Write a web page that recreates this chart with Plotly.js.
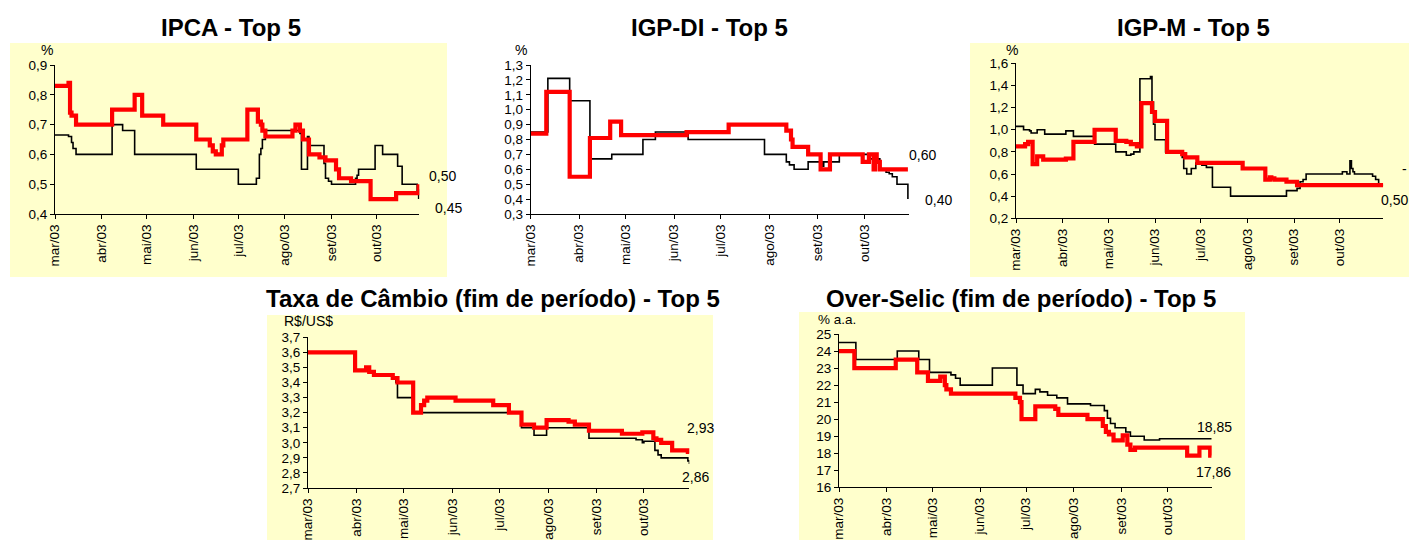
<!DOCTYPE html>
<html>
<head>
<meta charset="utf-8">
<script src="https://cdn.plot.ly/plotly-3.0.1.min.js"></script>
<style>html,body{margin:0;padding:0;background:#fff;}#chart{width:1409px;height:540px;}</style>
</head>
<body>
<div id="chart"></div>
<script>
// ---------------- DATA ----------------
const monthTicks = ['2003-03-01','2003-04-01','2003-05-01','2003-06-01','2003-07-01','2003-08-01','2003-09-01','2003-10-01'];
const monthLabels = ['mar/03','abr/03','mai/03','jun/03','jul/03','ago/03','set/03','out/03'];

const panelTitles = ['IPCA - Top 5','IGP-DI - Top 5','IGP-M - Top 5','Taxa de Câmbio (fim de período) - Top 5','Over-Selic (fim de período) - Top 5'];
const unitLabels = ['%','%','%','R$/US$','% a.a.'];

// IPCA
const ipcaBlackDates = ['2003-03-01','2003-03-10','2003-03-12','2003-03-13','2003-03-15','2003-04-08','2003-04-15','2003-04-23','2003-06-03','2003-07-01','2003-07-13','2003-07-15','2003-07-16','2003-07-17','2003-07-19','2003-08-11','2003-08-12','2003-08-16','2003-08-17','2003-08-27','2003-08-28','2003-08-30','2003-09-01','2003-09-17','2003-09-18','2003-09-19','2003-09-30','2003-10-05','2003-10-15','2003-10-18','2003-10-28','2003-10-29'];
const ipcaBlackValues = [0.665,0.66,0.64,0.62,0.60,0.70,0.68,0.60,0.55,0.50,0.52,0.60,0.62,0.65,0.68,0.67,0.55,0.66,0.63,0.57,0.52,0.51,0.50,0.52,0.53,0.55,0.63,0.60,0.56,0.50,0.48,0.45];
const ipcaRedDates = ['2003-03-01','2003-03-10','2003-03-11','2003-03-12','2003-03-15','2003-04-08','2003-04-23','2003-04-28','2003-05-12','2003-06-03','2003-06-12','2003-06-14','2003-06-16','2003-06-20','2003-06-21','2003-07-07','2003-07-14','2003-07-16','2003-07-17','2003-07-19','2003-08-06','2003-08-08','2003-08-11','2003-08-13','2003-08-17','2003-08-24','2003-08-28','2003-09-04','2003-09-06','2003-09-14','2003-09-27','2003-10-14','2003-10-29'];
const ipcaRedValues = [0.83,0.84,0.74,0.73,0.70,0.75,0.80,0.73,0.70,0.65,0.63,0.61,0.60,0.63,0.65,0.75,0.71,0.70,0.68,0.66,0.68,0.70,0.68,0.65,0.60,0.59,0.58,0.55,0.52,0.51,0.45,0.47,0.50];

// IGP-DI
const igpdiBlackDates = ['2003-03-01','2003-03-12','2003-03-26','2003-04-08','2003-04-22','2003-05-12','2003-05-20','2003-06-10','2003-07-29','2003-08-12','2003-08-14','2003-08-17','2003-08-26','2003-09-04','2003-09-05','2003-09-15','2003-10-04','2003-10-11','2003-10-15','2003-10-17','2003-10-19','2003-10-22','2003-10-29'];
const igpdiBlackValues = [0.85,1.21,1.06,0.67,0.70,0.80,0.85,0.80,0.70,0.65,0.63,0.60,0.65,0.62,0.65,0.70,0.67,0.60,0.58,0.57,0.55,0.50,0.40];
const igpdiRedDates = ['2003-03-01','2003-03-11','2003-03-26','2003-04-08','2003-04-21','2003-04-28','2003-06-09','2003-07-06','2003-08-12','2003-08-15','2003-08-16','2003-08-26','2003-09-03','2003-09-09','2003-09-30','2003-10-04','2003-10-07','2003-10-08','2003-10-09','2003-10-11','2003-10-29'];
const igpdiRedValues = [0.84,1.12,0.55,0.81,0.92,0.83,0.85,0.90,0.86,0.80,0.75,0.70,0.60,0.70,0.65,0.70,0.60,0.70,0.65,0.60,0.60];

// IGP-M
const igpmBlackDates = ['2003-03-01','2003-03-06','2003-03-10','2003-03-11','2003-03-15','2003-03-20','2003-04-03','2003-04-08','2003-04-22','2003-05-06','2003-05-13','2003-05-16','2003-05-18','2003-05-22','2003-05-29','2003-05-30','2003-05-31','2003-06-01','2003-06-08','2003-06-19','2003-06-20','2003-06-22','2003-06-25','2003-06-28','2003-07-02','2003-07-05','2003-07-09','2003-07-21','2003-08-27','2003-09-03','2003-09-05','2003-09-07','2003-09-09','2003-10-03','2003-10-06','2003-10-08','2003-10-09','2003-10-10','2003-10-11','2003-10-23','2003-10-25','2003-10-27','2003-10-30'];
const igpmBlackValues = [1.03,1.00,0.99,0.97,1.00,0.96,0.99,0.94,0.87,0.80,0.77,0.78,0.80,1.46,1.48,1.25,1.05,0.91,0.80,0.75,0.65,0.60,0.65,0.70,0.68,0.66,0.48,0.40,0.45,0.47,0.53,0.55,0.60,0.62,0.60,0.72,0.65,0.62,0.60,0.58,0.55,0.50,0.50];
const igpmRedDates = ['2003-03-01','2003-03-07','2003-03-09','2003-03-12','2003-03-15','2003-03-19','2003-04-03','2003-04-08','2003-04-22','2003-05-06','2003-05-13','2003-05-16','2003-05-20','2003-05-23','2003-05-30','2003-06-01','2003-06-09','2003-06-19','2003-06-21','2003-06-29','2003-07-29','2003-08-13','2003-08-16','2003-08-17','2003-08-19','2003-08-27','2003-09-03','2003-10-30'];
const igpmRedValues = [0.85,0.87,0.89,0.69,0.76,0.73,0.74,0.89,1.00,0.90,0.89,0.87,0.85,1.24,1.16,1.08,0.80,0.78,0.75,0.70,0.65,0.55,0.57,0.56,0.55,0.53,0.50,0.50];

// Taxa de Câmbio
const cambioBlackDates = ['2003-03-01','2003-03-31','2003-04-07','2003-04-09','2003-04-12','2003-04-24','2003-04-26','2003-04-27','2003-05-07','2003-07-15','2003-07-23','2003-07-31','2003-08-27','2003-09-26','2003-09-30','2003-10-01','2003-10-08','2003-10-10','2003-10-12','2003-10-29','2003-10-30'];
const cambioBlackValues = [3.60,3.48,3.50,3.47,3.45,3.43,3.40,3.30,3.20,3.10,3.05,3.10,3.03,3.02,3.00,3.01,2.95,2.92,2.90,2.88,2.86];
const cambioRedDates = ['2003-03-01','2003-03-31','2003-04-07','2003-04-09','2003-04-12','2003-04-24','2003-04-27','2003-05-07','2003-05-12','2003-05-14','2003-05-16','2003-06-03','2003-06-27','2003-07-07','2003-07-15','2003-07-23','2003-07-31','2003-08-14','2003-08-18','2003-08-27','2003-09-17','2003-09-30','2003-10-07','2003-10-09','2003-10-12','2003-10-19','2003-10-29','2003-10-30'];
const cambioRedValues = [3.60,3.48,3.50,3.47,3.45,3.43,3.40,3.20,3.25,3.28,3.30,3.28,3.25,3.20,3.12,3.10,3.15,3.14,3.12,3.08,3.06,3.07,3.03,3.02,3.00,2.95,2.94,2.93];

// Over-Selic
const selicBlackDates = ['2003-03-01','2003-03-12','2003-04-08','2003-04-22','2003-04-29','2003-05-13','2003-05-16','2003-05-19','2003-06-09','2003-06-25','2003-06-29','2003-07-07','2003-07-10','2003-07-15','2003-07-21','2003-07-28','2003-08-12','2003-08-21','2003-08-23','2003-08-25','2003-08-28','2003-09-04','2003-09-07','2003-09-16','2003-09-26','2003-10-30'];
const selicBlackValues = [24.5,23.5,24.0,23.5,22.75,22.6,22.4,22.0,23.0,22.0,21.5,21.75,21.6,21.4,21.25,20.9,20.8,20.5,20.05,19.75,19.5,19.25,19.0,18.78,18.85,18.85];
const selicRedDates = ['2003-03-01','2003-03-11','2003-04-07','2003-04-21','2003-04-28','2003-05-06','2003-05-09','2003-05-10','2003-05-13','2003-06-24','2003-06-27','2003-06-28','2003-07-07','2003-07-20','2003-07-22','2003-08-10','2003-08-20','2003-08-22','2003-08-24','2003-08-27','2003-09-02','2003-09-05','2003-09-07','2003-09-10','2003-10-14','2003-10-22','2003-10-29','2003-10-30'];
const selicRedValues = [24.0,23.0,23.5,22.75,22.25,22.5,22.0,21.75,21.5,21.25,21.0,20.0,20.75,20.6,20.25,20.0,19.6,19.25,19.1,18.75,19.05,18.5,18.2,18.33,17.86,18.33,17.86,17.86];

const endLabels = [['0,50','0,45'],['0,60','0,40'],['0,50'],['2,93','2,86'],['18,85','17,86']];

// ---------------- LAYOUT ----------------
const W = 1409, H = 540;
const px = x => x / W;
const py = y => 1 - y / H;
const FONT = 'Liberation Sans, Arial, Helvetica, sans-serif';

// plot areas in pixels: [left, right, top, bottom]
const boxes = [
  [55, 419.3, 65, 214],
  [530.7, 909, 65, 214],
  [1016, 1383.3, 63.3, 218.3],
  [308, 689.3, 337.3, 488],
  [839, 1211.7, 334, 487.3]
];
const xEnds = ['2003-10-29 10:00','2003-10-29 17:00','2003-10-30 02:00','2003-10-29 22:00','2003-10-30'];
const yRanges = [[0.4,0.9],[0.3,1.3],[0.2,1.6],[2.7,3.7],[16,25]];
const yDticks = [0.1,0.1,0.2,0.1,1];
const yFormats = ['.1f','.1f','.1f','.1f','d'];

const seriesList = [
  [ipcaBlackDates, ipcaBlackValues, ipcaRedDates, ipcaRedValues],
  [igpdiBlackDates, igpdiBlackValues, igpdiRedDates, igpdiRedValues],
  [igpmBlackDates, igpmBlackValues, igpmRedDates, igpmRedValues],
  [cambioBlackDates, cambioBlackValues, cambioRedDates, cambioRedValues],
  [selicBlackDates, selicBlackValues, selicRedDates, selicRedValues]
];

const traces = [];
const layout = {
  width: W, height: H,
  margin: {l: 0, r: 0, t: 0, b: 0},
  paper_bgcolor: '#ffffff',
  plot_bgcolor: 'rgba(0,0,0,0)',
  showlegend: false,
  separators: ',.',
  font: {family: FONT, color: '#000', size: 13.5},
  shapes: [],
  annotations: []
};

seriesList.forEach((s, i) => {
  const n = i + 1;
  const xa = 'x' + (n === 1 ? '' : n);
  const ya = 'y' + (n === 1 ? '' : n);
  traces.push({x: s[0], y: s[1], type: 'scatter', mode: 'lines', line: {color: '#000000', width: 1.6, shape: 'hv'}, xaxis: xa, yaxis: ya, hoverinfo: 'skip'});
  traces.push({x: s[2], y: s[3], type: 'scatter', mode: 'lines', line: {color: '#ff0000', width: 4.2, shape: 'hv'}, xaxis: xa, yaxis: ya, hoverinfo: 'skip'});
  const b = boxes[i];
  layout['xaxis' + (n === 1 ? '' : n)] = {
    domain: [px(b[0]), px(b[1])], anchor: ya, type: 'date',
    range: ['2003-03-01', xEnds[i]],
    tickmode: 'array', tickvals: monthTicks, ticktext: monthLabels, tickangle: -90,
    ticks: 'outside', ticklen: 4, tickwidth: 1, tickcolor: '#000',
    showline: true, linecolor: '#000', linewidth: 1,
    showgrid: false, zeroline: false, fixedrange: true,
    tickfont: {family: FONT, size: 13.5, color: '#000'}
  };
  layout['yaxis' + (n === 1 ? '' : n)] = {
    domain: [py(b[3]), py(b[2])], anchor: xa,
    range: yRanges[i], dtick: yDticks[i], tick0: yRanges[i][0], tickformat: yFormats[i],
    ticks: 'outside', ticklen: 4, tickwidth: 1, tickcolor: '#000',
    showline: true, linecolor: '#000', linewidth: 1,
    showgrid: false, zeroline: false, fixedrange: true,
    tickfont: {family: FONT, size: 13.5, color: '#000'}
  };
});

// yellow panel backgrounds
[[10, 43, 447, 277], [970, 43, 1409, 277], [267, 315, 713, 540], [799, 312, 1245, 540]].forEach(r => {
  layout.shapes.push({type: 'rect', xref: 'paper', yref: 'paper', x0: px(r[0]), x1: px(r[2]), y0: py(r[3]), y1: py(r[1]), fillcolor: '#FFFFCC', line: {width: 0}, layer: 'below'});
});

function ann(text, x, y, size, bold, xanchor) {
  layout.annotations.push({text: text, xref: 'paper', yref: 'paper', x: px(x), y: py(y), xanchor: xanchor || 'center', yanchor: 'middle', showarrow: false,
    font: {family: FONT, size: size, color: '#000', weight: bold ? 'bold' : 'normal'}});
}
// titles
const titlePos = [[231, 27], [710, 27], [1193, 27], [493, 298], [1021, 298]];
panelTitles.forEach((t, i) => ann(t, titlePos[i][0], titlePos[i][1], 24, true));
// units
const unitPos = [[47, 50], [521, 50], [1012, 50], [308, 321], [837, 319]];
unitLabels.forEach((t, i) => ann(t, unitPos[i][0], unitPos[i][1], i === 4 ? 13.5 : 14, false));
// end labels
const endPos = [[[442, 176], [448, 208]], [[922, 155], [938, 200]], [[1394, 200]], [[700, 428], [695, 477]], [[1214, 427], [1213, 472]]];
endLabels.forEach((lbls, i) => lbls.forEach((t, j) => ann(t, endPos[i][j][0], endPos[i][j][1], 14, false)));
ann('-', 1409, 169, 14, false, 'right');

Plotly.newPlot('chart', traces, layout, {displayModeBar: false, staticPlot: true});
</script>
</body>
</html>
